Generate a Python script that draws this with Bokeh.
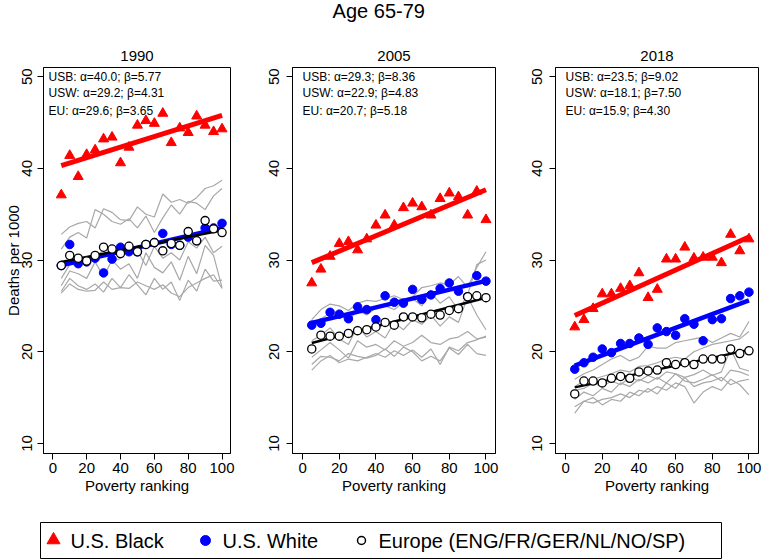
import math
from bokeh.plotting import figure
from bokeh.models import Range1d, FixedTicker
from bokeh.layouts import column, row
from bokeh.embed import file_html
from bokeh.resources import INLINE
from bokeh.core.properties import value

FONT = "Liberation Sans"

# ---------------- data ----------------
main_title = "Age 65-79"
years = ["1990", "2005", "2018"]
ranks = [5, 10, 15, 20, 25, 30, 35, 40, 45, 50, 55, 60, 65, 70, 75, 80, 85, 90, 95, 100]
x_ticks = [0, 20, 40, 60, 80, 100]
y_ticks = [10, 20, 30, 40, 50]

usb_1990 = [37.1, 41.4, 39.1, 41.5, 42.0, 43.2, 43.4, 40.6, 42.3, 44.7,
            45.2, 44.9, 46.0, 42.8, 44.4, 43.9, 45.7, 44.7, 44.0, 44.3]
usw_1990 = [29.4, 31.7, 29.6, 29.8, 30.2, 28.6, 30.1, 31.4, 30.9, 30.9,
            31.7, 31.9, 32.9, 31.7, 31.6, 32.5, 32.1, 33.5, 33.5, 34.0]
eu_1990 = [29.4, 30.5, 30.2, 29.9, 30.5, 31.4, 31.2, 30.7, 31.5, 30.9,
           31.7, 31.9, 31.0, 31.8, 31.6, 33.1, 32.1, 34.3, 33.4, 33.0]

usb_2005 = [27.5, 29.0, 30.4, 31.8, 32.0, 31.1, 32.3, 33.8, 34.9, 33.8,
            35.7, 36.2, 35.8, 34.9, 36.7, 37.3, 36.9, 34.9, 37.5, 34.4]
usw_2005 = [22.9, 23.1, 24.3, 24.1, 23.6, 24.9, 24.6, 23.5, 26.1, 25.4,
            25.3, 26.8, 25.7, 26.2, 26.9, 27.5, 26.6, 26.0, 28.3, 27.7]
eu_2005 = [20.3, 21.8, 21.7, 21.7, 22.0, 22.3, 22.4, 22.7, 23.2, 22.9,
           23.8, 23.8, 23.7, 24.1, 24.0, 24.5, 24.7, 26.0, 26.1, 25.9]

usb_2018 = [22.7, 23.5, 24.7, 26.3, 26.3, 26.9, 27.2, 28.6, 25.9, 26.8,
            30.1, 30.1, 31.4, 30.2, 30.3, 30.3, 29.7, 32.8, 31.0, 32.3]
usw_2018 = [18.1, 18.8, 19.4, 20.3, 19.9, 20.9, 20.9, 21.5, 20.8, 22.6,
            22.2, 21.8, 23.6, 23.0, 21.2, 23.5, 23.6, 25.8, 26.1, 26.5]
eu_2018 = [15.4, 16.8, 16.8, 16.6, 17.1, 17.3, 17.1, 17.8, 17.9, 18.0,
           18.8, 18.6, 18.8, 18.6, 19.2, 19.2, 19.2, 20.3, 19.8, 20.1]

# individual European countries (grey lines)
countries_1990 = [
    [32.8, 33.6, 34.0, 34.2, 33.5, 35.6, 35.2, 34.4, 34.3, 35.8, 35.0, 34.7, 37.2, 36.3, 36.6, 36.2, 36.8, 37.8, 38.1, 38.7],
    [31.2, 32.5, 33.0, 32.4, 35.5, 35.0, 34.2, 33.9, 34.5, 33.5, 34.8, 33.0, 34.6, 36.0, 35.0, 36.4, 36.2, 35.5, 37.0, 37.8],
    [28.0, 29.5, 30.2, 29.6, 30.5, 31.0, 29.8, 30.2, 32.0, 31.0, 29.4, 31.5, 30.2, 30.8, 30.0, 32.0, 31.3, 32.5, 30.8, 31.5],
    [27.2, 28.8, 28.5, 28.0, 29.8, 28.2, 30.0, 29.0, 29.6, 28.0, 30.8, 29.2, 28.6, 29.8, 27.8, 30.4, 28.5, 31.6, 30.5, 27.0],
    [26.6, 28.0, 27.2, 26.8, 27.4, 26.5, 28.0, 27.0, 28.4, 27.3, 26.2, 28.0, 26.8, 27.6, 25.6, 27.8, 26.6, 29.0, 27.7, 27.8],
    [26.4, 27.4, 26.8, 26.6, 26.7, 27.6, 26.8, 27.0, 26.9, 27.6, 27.2, 26.8, 27.3, 26.4, 26.0, 27.0, 27.5, 28.0, 28.4, 26.9],
]
countries_2005 = [
    [23.5, 24.6, 25.2, 25.0, 24.5, 25.3, 25.6, 25.5, 25.8, 26.1, 25.7, 26.0, 27.0, 27.2, 27.5, 27.3, 28.2, 27.0, 29.2, 30.9],
    [22.6, 23.6, 24.2, 24.0, 23.4, 24.5, 24.0, 24.8, 25.0, 24.6, 25.4, 25.8, 25.0, 26.4, 25.3, 26.0, 24.5, 26.2, 29.5, 30.0],
    [21.2, 21.8, 22.6, 21.4, 20.8, 22.8, 21.6, 22.2, 21.5, 23.2, 22.4, 23.5, 23.0, 24.0, 22.8, 23.8, 23.2, 26.0, 24.0, 22.4],
    [19.4, 20.2, 21.0, 20.2, 19.3, 21.2, 20.5, 20.8, 20.2, 21.2, 20.6, 21.0, 21.8, 21.0, 20.8, 21.4, 21.6, 22.2, 21.4, 21.6],
    [18.6, 19.5, 19.4, 19.0, 19.8, 19.5, 19.3, 19.6, 20.3, 19.5, 20.5, 20.0, 19.0, 19.5, 19.0, 20.4, 19.7, 20.8, 19.8, 19.6],
    [18.0, 19.0, 19.6, 18.8, 19.2, 19.0, 19.4, 19.8, 19.4, 20.1, 19.6, 20.2, 19.4, 20.3, 18.6, 20.5, 20.1, 21.0, 21.3, 21.7],
]
countries_2018 = [
    [17.0, 17.6, 18.0, 18.6, 19.2, 19.6, 19.0, 19.4, 20.6, 20.4, 20.4, 21.0, 21.2, 21.4, 21.6, 21.0, 21.5, 22.0, 21.6, 23.3],
    [16.2, 16.8, 17.0, 17.3, 17.6, 18.0, 17.8, 18.4, 18.5, 18.8, 19.2, 19.4, 19.2, 20.0, 20.4, 20.8, 21.0, 21.2, 21.4, 22.2],
    [15.8, 16.0, 16.6, 16.2, 16.8, 16.4, 17.2, 16.8, 17.4, 17.0, 17.8, 17.6, 17.2, 17.5, 18.0, 17.4, 17.8, 20.3, 18.2, 17.9],
    [14.8, 15.6, 15.2, 16.0, 15.6, 16.6, 16.2, 17.0, 16.6, 17.2, 16.6, 17.6, 16.8, 16.6, 17.0, 17.5, 16.8, 18.0, 17.8, 17.4],
    [14.0, 14.6, 14.4, 14.8, 15.0, 15.4, 15.0, 15.8, 15.6, 16.2, 15.8, 16.6, 16.2, 14.4, 15.6, 16.2, 15.8, 17.0, 16.4, 15.3],
    [13.3, 14.6, 15.0, 14.2, 14.8, 14.6, 15.6, 15.2, 16.0, 15.4, 16.6, 16.0, 17.2, 16.2, 16.6, 16.8, 17.2, 16.4, 16.8, 17.0],
]

# regression coefficients shown in each panel (line: alpha + beta * rank/100)
alpha_usb = [40.0, 29.3, 23.5]
beta_usb = [5.77, 8.36, 9.02]
alpha_usw = [29.2, 22.9, 18.1]
beta_usw = [4.31, 4.83, 7.50]
alpha_eu = [29.6, 20.7, 15.9]
beta_eu = [3.65, 5.18, 4.30]

legend_labels = ["U.S. Black", "U.S. White", "Europe (ENG/FR/GER/NL/NO/SP)"]
ylabel = "Deaths per 1000"
xlabel = "Poverty ranking"

usb = [usb_1990, usb_2005, usb_2018]
usw = [usw_1990, usw_2005, usw_2018]
eu = [eu_1990, eu_2005, eu_2018]
countries = [countries_1990, countries_2005, countries_2018]

RED = "#FF0000"
BLUE = "#0000FF"
GREY = "#A8A8A8"

# ---------------- layout geometry ----------------
FRAME_H = 386
panel_geo = [
    # frame_width, border_left, border_right, x_range, text_x, y label standoff
    (187, 43, 20, (-5.5, 105.0), -2.5, 5),
    (203, 42, 10, (-5.5, 105.2), 0.0, 7),
    (203, 50, 4, (-5.5, 105.2), 0.0, 7),
]


def fit_line(a, b):
    xs = [ranks[0], ranks[-1]]
    return xs, [a + b * x / 100.0 for x in xs]


def make_panel(i):
    fw, bl, br, xr, tx, ysd = panel_geo[i]
    p = figure(frame_width=fw, frame_height=FRAME_H,
               min_border_left=bl, min_border_right=br,
               min_border_top=27, min_border_bottom=52,
               x_range=Range1d(*xr), y_range=Range1d(8.9, 51.0),
               title=years[i], output_backend="svg", toolbar_location=None)
    p.title.align = "center"
    p.title.text_font = FONT
    p.title.text_font_size = "15px"
    p.title.text_font_style = "normal"
    p.title.text_color = "black"
    p.title.standoff = 13
    p.background_fill_color = "white"
    p.border_fill_color = "white"
    p.outline_line_color = "black"
    p.outline_line_width = 1
    p.outline_line_alpha = 1.0
    p.xgrid.visible = False
    p.ygrid.visible = False

    p.xaxis.ticker = FixedTicker(ticks=x_ticks)
    p.yaxis.ticker = FixedTicker(ticks=y_ticks)
    for ax in (p.xaxis[0], p.yaxis[0]):
        ax.major_tick_out = 6
        ax.major_tick_in = 0
        ax.minor_tick_out = 0
        ax.minor_tick_in = 0
        ax.axis_line_color = "black"
        ax.major_tick_line_color = "black"
        ax.major_label_text_font = FONT
        ax.major_label_text_font_size = "15px"
        ax.major_label_text_color = "black"
        ax.major_label_standoff = 3
        ax.axis_label_text_font = FONT
        ax.axis_label_text_font_size = "15px"
        ax.axis_label_text_font_style = "normal"
        ax.axis_label_text_color = "black"
        ax.axis_label_standoff = 1
    p.yaxis.major_label_orientation = "parallel"
    p.yaxis.major_label_standoff = ysd
    p.xaxis.axis_label = xlabel
    if i == 0:
        p.yaxis.axis_label = ylabel
        p.yaxis.axis_label_standoff = -2

    for c in countries[i]:
        p.line(ranks, c, line_color=GREY, line_width=1.2)

    p.scatter(ranks, usb[i], marker="triangle", size=10,
              fill_color=RED, line_color=RED)
    xs, ys = fit_line(alpha_usb[i], beta_usb[i])
    p.line(xs, ys, line_color=RED, line_width=5)

    p.scatter(ranks, usw[i], marker="circle", size=8.5,
              fill_color=BLUE, line_color=BLUE)
    xs, ys = fit_line(alpha_usw[i], beta_usw[i])
    p.line(xs, ys, line_color=BLUE, line_width=4.5)

    xs, ys = fit_line(alpha_eu[i], beta_eu[i])
    p.line(xs, ys, line_color="black", line_width=2.5)
    p.scatter(ranks, eu[i], marker="circle", size=8.2,
              fill_color="white", line_color="black", line_width=1.3)

    texts = [
        "USB: \u03b1=%.1f; \u03b2=%.2f" % (alpha_usb[i], beta_usb[i]),
        "USW: \u03b1=%.1f; \u03b2=%.2f" % (alpha_usw[i], beta_usw[i]),
        "EU:  \u03b1=%.1f; \u03b2=%.2f" % (alpha_eu[i], beta_eu[i]),
    ]
    p.text(x=[tx] * 3, y=[50.0, 48.2, 46.3], text=texts,
           text_font=value(FONT), text_font_size="12px",
           text_baseline="middle", text_align="left", text_color="black")
    return p


panels = [make_panel(i) for i in range(3)]

# top title
top = figure(width=762, height=40, x_range=Range1d(0, 762), y_range=Range1d(0, 40),
             min_border=0, x_axis_type=None, y_axis_type=None,
             output_backend="svg", toolbar_location=None)
top.outline_line_color = None
top.xgrid.visible = False
top.ygrid.visible = False
top.text(x=[378.5], y=[29.5], text=[main_title], text_font=value(FONT),
         text_font_size="20px", text_align="center", text_baseline="middle",
         text_color="black")

# legend strip (box drawn by the frame outline)
leg = figure(frame_width=681, frame_height=36, min_border_left=40, min_border_right=41,
             min_border_top=17, min_border_bottom=2,
             x_range=Range1d(0, 681), y_range=Range1d(0, 36),
             x_axis_type=None, y_axis_type=None,
             output_backend="svg", toolbar_location=None)
leg.outline_line_color = "black"
leg.outline_line_width = 1
leg.xgrid.visible = False
leg.ygrid.visible = False
key_x = [13, 165, 321]
leg.scatter([key_x[0]], [18.5], marker="triangle", size=13, fill_color=RED, line_color=RED)
leg.scatter([key_x[1]], [18], marker="circle", size=10, fill_color=BLUE, line_color=BLUE)
leg.scatter([key_x[2]], [18], marker="circle", size=8, fill_color="white",
            line_color="black", line_width=1.5)
leg.text(x=[k + 17 for k in key_x], y=[17.5] * 3, text=legend_labels,
         text_font=value(FONT), text_font_size="20px", text_baseline="middle",
         text_align="left", text_color="black")

layout = column(top, row(*panels), leg)
open("out.html", "w").write(file_html(layout, INLINE))
